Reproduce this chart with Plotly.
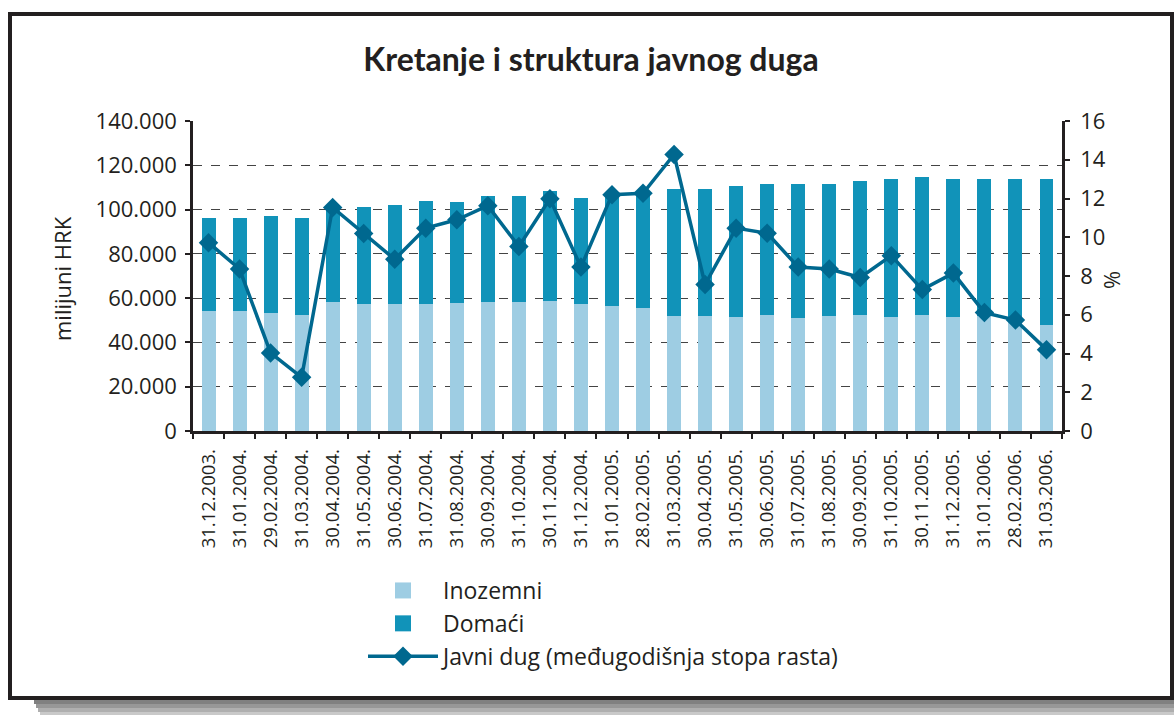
import plotly.graph_objects as go

dates = ["31.12.2003.", "31.01.2004.", "29.02.2004.", "31.03.2004.", "30.04.2004.", "31.05.2004.",
         "30.06.2004.", "31.07.2004.", "31.08.2004.", "30.09.2004.", "31.10.2004.", "30.11.2004.",
         "31.12.2004.", "31.01.2005.", "28.02.2005.", "31.03.2005.", "30.04.2005.", "31.05.2005.",
         "30.06.2005.", "31.07.2005.", "31.08.2005.", "30.09.2005.", "31.10.2005.", "30.11.2005.",
         "31.12.2005.", "31.01.2006.", "28.02.2006.", "31.03.2006."]
inozemni = [54200, 54200, 53300, 52400, 58300, 57400, 57400, 57400, 57800, 58300, 58300, 58700,
            57400, 56500, 55600, 51900, 51900, 51500, 52400, 51000, 51900, 52400, 51500, 52400,
            51500, 52000, 51000, 48000]
domaci = [42200, 42200, 43600, 43600, 43000, 43600, 44500, 46300, 45500, 47700, 47700, 49600,
          47700, 50500, 51600, 57300, 57300, 59000, 59000, 60400, 59500, 60400, 62200, 62200,
          62200, 61700, 62700, 65700]
stopa = [9.72, 8.36, 4.03, 2.77, 11.54, 10.19, 8.86, 10.47, 10.90, 11.63, 9.52, 11.99,
         8.46, 12.20, 12.27, 14.27, 7.56, 10.47, 10.21, 8.46, 8.36, 7.92, 9.05, 7.30,
         8.15, 6.11, 5.73, 4.20]

C_LIGHT = "#9ecde3"
C_DARK = "#1193b9"
C_LINE = "#00688f"
C_AX = "#231f20"
FONT = "Open Sans"

# plot area in pixels
L, R, T, B = 193, 1062, 121, 431
W, H = R - L, B - T
def px(x):
    return (x - L) / W
def py(y):
    return (B - y) / H

fig = go.Figure()
fig.add_trace(go.Bar(x=dates, y=inozemni, name="Inozemni", marker_color=C_LIGHT,
                     marker_line_width=0, legendgroup="ino", showlegend=False))
fig.add_trace(go.Bar(x=dates, y=domaci, name="Domaći", marker_color=C_DARK,
                     marker_line_width=0, legendgroup="dom", showlegend=False))
# legend entries with larger square swatches
fig.add_trace(go.Scatter(x=[None], y=[None], mode="markers", name="Inozemni", legendgroup="ino",
                         marker=dict(symbol="square", size=18, color=C_LIGHT)))
fig.add_trace(go.Scatter(x=[None], y=[None], mode="markers", name="Domaći", legendgroup="dom",
                         marker=dict(symbol="square", size=18, color=C_DARK)))
fig.add_trace(go.Scatter(x=dates, y=stopa, name="Javni dug (međugodišnja stopa rasta)",
                         yaxis="y2", mode="lines+markers",
                         line=dict(color=C_LINE, width=3.5),
                         marker=dict(symbol="diamond", size=15, color=C_LINE)))

shapes = [
    # shadow under frame
    dict(type="rect", xref="paper", yref="paper", x0=px(34), x1=px(1174), y0=py(700), y1=py(704),
         fillcolor="#808080", line_width=0, layer="below"),
    dict(type="rect", xref="paper", yref="paper", x0=px(36), x1=px(1174), y0=py(704), y1=py(708),
         fillcolor="#979797", line_width=0, layer="below"),
    dict(type="rect", xref="paper", yref="paper", x0=px(38), x1=px(1174), y0=py(708), y1=py(712),
         fillcolor="#afafaf", line_width=0, layer="below"),
    dict(type="rect", xref="paper", yref="paper", x0=px(40), x1=px(1174), y0=py(712), y1=py(715),
         fillcolor="#c9c9c9", line_width=0, layer="below"),
    # frame
    dict(type="rect", xref="paper", yref="paper", x0=px(10), x1=px(1172), y0=py(698), y1=py(14),
         line=dict(color=C_AX, width=4), fillcolor="rgba(0,0,0,0)", layer="above"),
]

annotations = [
    dict(text="milijuni HRK", x=px(45), y=py(279), xref="paper", yref="paper", showarrow=False,
         textangle=-90, font=dict(family=FONT, size=22, color=C_AX)),
    dict(text="%", x=px(1128), y=py(280), xref="paper", yref="paper", showarrow=False,
         textangle=-90, font=dict(family=FONT, size=22, color=C_AX)),
]

fig.update_layout(
    width=1174, height=715,
    margin=dict(l=L, r=1174 - R, t=T, b=715 - B),
    paper_bgcolor="white", plot_bgcolor="white",
    separators=",.",
    barmode="stack", bargap=0.55,
    title=dict(text="<b>Kretanje i struktura javnog duga</b>", x=591 / 1174, y=1 - 60 / 715,
               xanchor="center", yanchor="middle", xref="container", yref="container",
               font=dict(family="Lato", size=32, color=C_AX)),
    font=dict(family=FONT, color=C_AX),
    xaxis=dict(type="category", range=[-0.5, len(dates) - 0.5], showline=True, linecolor=C_AX,
               linewidth=2.5, ticks="outside", ticklen=5, tickcolor=C_AX, tickwidth=1.5,
               tickson="boundaries", tickangle=-90, tickfont=dict(family=FONT, size=18.5, color=C_AX),
               showgrid=False, ticklabelstandoff=8),
    yaxis=dict(range=[0, 140000], dtick=20000, tickformat=",d", showline=True, linecolor=C_AX,
               linewidth=2.5, ticks="outside", ticklen=5, tickcolor=C_AX, tickwidth=1.5,
               tickfont=dict(family=FONT, size=22, color=C_AX), ticklabelstandoff=4,
               showgrid=True, gridcolor="#444", griddash="dash", gridwidth=1, zeroline=False),
    yaxis2=dict(range=[0, 16], dtick=2, overlaying="y", side="right", showline=True,
                linecolor=C_AX, linewidth=2.5, ticks="outside", ticklen=5, tickcolor=C_AX,
                tickwidth=1.5, tickfont=dict(family=FONT, size=22, color=C_AX),
                ticklabelstandoff=6, showgrid=False, zeroline=False),
    legend=dict(x=px(363), y=py(569), xanchor="left", yanchor="top", traceorder="normal",
                font=dict(family=FONT, size=23, color=C_AX), itemwidth=70,
                bgcolor="rgba(0,0,0,0)", tracegroupgap=0),
    shapes=shapes,
    annotations=annotations,
)

fig.write_html("out.html", config={"displayModeBar": False},
               post_script="document.body.style.margin='0px';document.body.style.overflow='hidden';")
